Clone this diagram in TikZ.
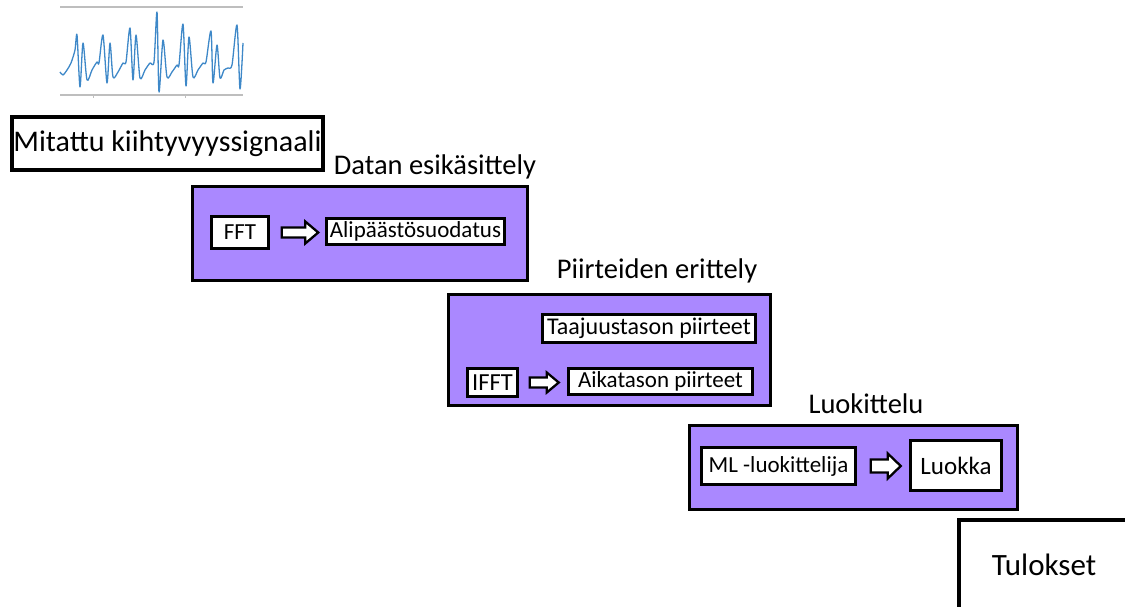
\documentclass[tikz,border=0pt]{standalone}
\usepackage{fontspec}
\setmainfont{Carlito}
\usetikzlibrary{calc}
\definecolor{boxpurple}{RGB}{170,136,255}
\definecolor{sigblue}{RGB}{62,136,200}
\definecolor{axisgray}{RGB}{190,190,190}
\tikzset{
  stagebox/.style={draw=black, line width=3pt, fill=boxpurple, inner sep=0pt},
  whitebox/.style={draw=black, line width=2.5pt, fill=white, inner sep=0pt, font=\fontsize{23}{25}\selectfont},
  bigbox/.style={draw=black, line width=4pt, fill=white, inner sep=0pt, font=\fontsize{30}{33}\selectfont},
  stagelabel/.style={inner sep=0pt, font=\fontsize{28.5}{31}\selectfont},
  blk/.style={draw=black, line width=2.3pt, fill=white, line join=miter},
}
% block arrow: start anchor, gap, shaft length, shaft half, head half, head length
\newcommand{\blkarrow}[6]{%
  \draw[blk] ($#1+(#2,-#4)$) -- ++(#3,0) -- ++(0,{#4-#5}) -- ++(#6,#5) -- ++(-#6,#5)
     -- ++(0,{#4-#5}) -- ++(-#3,0) -- cycle;}
\begin{document}
\begin{tikzpicture}[x=1pt,y=-1pt]
\useasboundingbox (0,0) rectangle (1125,607);
% signal chart
\draw[axisgray, line width=1.2pt] (60,7) -- (243,7);
\draw[axisgray, line width=1.2pt] (60,95) -- (243,95);
\draw[axisgray, line width=0.8pt] (93,95) -- (93,98) (185,95) -- (185,98);
\draw[sigblue, line width=1.3pt, line join=round] plot[smooth, tension=0.45] coordinates {
(60,72) (63,75) (67,70) (71,63) (75,50) (77,35) (80,87) (83,43) (87,80) (92,70) (97,62) (99,63)
(103,35) (107,83) (110,43) (113,77) (118,72) (123,63) (126,62)
(130,28) (133,80) (136,35) (140,78) (145,70) (150,63) (154,62)
(157,12) (159,92) (163,40) (167,77) (172,72) (177,65) (179,65)
(183,24) (186,86) (189,37) (193,77) (198,70) (203,63) (206,62)
(211,31) (213,83) (217,45) (220,78) (224,70) (228,68) (232,65)
(237,25) (240,89) (243,43)};
% input
\node[bigbox, minimum width=311pt, minimum height=53pt] (mit) at (167.5,143.5) {Mitattu kiihtyvyyssignaali};
% stage 1
\node[stagelabel] (l1) at (435,167) {Datan esikäsittely};
\node[stagebox, minimum width=335pt, minimum height=93.5pt] (b1) at (360,233.5) {};
\node[whitebox, minimum width=57pt, minimum height=32pt] (fft) at (240,232.5) {FFT};
\node[whitebox, minimum width=178pt, minimum height=26pt] (alp) at (415.5,231.5) {Alipäästösuodatus};
\blkarrow{(fft.east)}{12}{23.5}{5}{11}{13}
% stage 2
\node[stagelabel] (l2) at (657,271) {Piirteiden erittely};
\node[stagebox, minimum width=322pt, minimum height=111pt] (b2) at (609.5,350) {};
\node[whitebox, minimum width=213pt, minimum height=28pt, font=\fontsize{24}{26}\selectfont] (taa) at (649,328.5) {Taajuustason piirteet};
\node[whitebox, minimum width=50pt, minimum height=28pt, font=\fontsize{24.5}{26}\selectfont] (ifft) at (492.5,382.5) {IFFT};
\node[whitebox, minimum width=184pt, minimum height=26pt] (aik) at (660.5,381.5) {Aikatason piirteet};
\blkarrow{(ifft.east)}{11}{17}{5}{10}{12}
% stage 3
\node[stagelabel] (l3) at (866,404) {Luokittelu};
\node[stagebox, minimum width=328pt, minimum height=84pt] (b3) at (853.5,467.5) {};
\node[whitebox, minimum width=154pt, minimum height=37pt] (ml) at (778.5,466) {ML -luokittelija};
\node[whitebox, minimum width=91pt, minimum height=50pt, font=\fontsize{25}{27}\selectfont] (luo) at (956,465.5) {Luokka};
\blkarrow{(ml.east)}{14}{17}{6.5}{12.5}{13}
% output
\node[bigbox, minimum width=170pt, minimum height=90pt, font=\fontsize{31}{34}\selectfont] (tul) at (1044,565) {Tulokset};
\end{tikzpicture}
\end{document}
